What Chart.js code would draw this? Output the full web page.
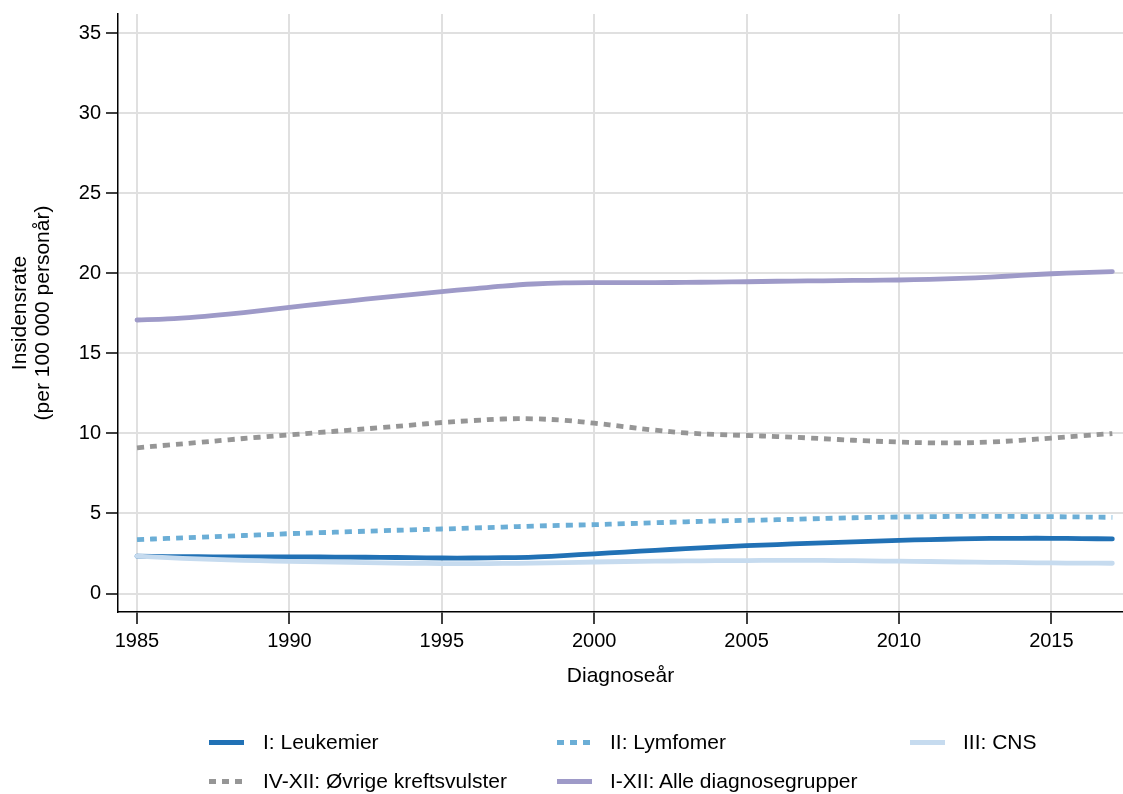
<!DOCTYPE html>
<html>
<head>
<meta charset="utf-8">
<script src="https://cdn.jsdelivr.net/npm/chart.js@4/dist/chart.umd.min.js"></script>
<style>
  html, body { margin: 0; padding: 0; background: #fff; }
  #wrap { position: relative; width: 1123px; height: 794px; overflow: hidden; }
  #c { position: absolute; left: 0; top: 0; }
  .lg { position: absolute; font-family: "Liberation Sans", Arial, sans-serif; font-size: 21px; color: #000; line-height: 24px; white-space: nowrap; }
  .sw { position: absolute; height: 0; }
</style>
</head>
<body>
<div id="wrap">
  <canvas id="c" width="1123" height="794"></canvas>
  <div id="legend"></div>
</div>
<script>
const years = [1985,1986,1987,1988,1989,1990,1991,1992,1993,1994,1995,1996,1997,1998,1999,2000,2001,2002,2003,2004,2005,2006,2007,2008,2009,2010,2011,2012,2013,2014,2015,2016,2017];

const seriesNames = ["I: Leukemier", "II: Lymfomer", "III: CNS", "IV-XII: Øvrige kreftsvulster", "I-XII: Alle diagnosegrupper"];

const leukemier = [2.33,2.31,2.30,2.29,2.29,2.29,2.28,2.27,2.26,2.24,2.22,2.22,2.24,2.28,2.37,2.48,2.59,2.70,2.80,2.90,2.99,3.06,3.13,3.20,3.26,3.32,3.37,3.41,3.44,3.45,3.45,3.43,3.41];
const lymfomer = [3.37,3.44,3.51,3.59,3.66,3.74,3.80,3.86,3.92,3.98,4.03,4.09,4.15,4.21,4.26,4.30,4.36,4.42,4.48,4.53,4.57,4.61,4.66,4.71,4.75,4.78,4.80,4.82,4.82,4.81,4.80,4.78,4.76];
const cns = [2.33,2.24,2.16,2.10,2.05,2.01,1.98,1.95,1.92,1.89,1.87,1.87,1.88,1.90,1.93,1.97,2.00,2.02,2.04,2.05,2.06,2.07,2.07,2.06,2.04,2.02,2.00,1.97,1.95,1.93,1.91,1.90,1.89];
const ovrige = [9.10,9.27,9.43,9.60,9.76,9.91,10.06,10.21,10.36,10.52,10.68,10.80,10.90,10.91,10.82,10.64,10.42,10.20,10.03,9.93,9.87,9.80,9.72,9.62,9.53,9.46,9.41,9.41,9.46,9.57,9.71,9.85,9.99];
const alle = [17.08,17.15,17.28,17.45,17.65,17.87,18.08,18.28,18.48,18.67,18.85,19.03,19.20,19.33,19.40,19.42,19.42,19.42,19.43,19.45,19.47,19.50,19.52,19.54,19.56,19.58,19.62,19.68,19.76,19.87,19.97,20.04,20.10];

const yTitle = ["Insidensrate", "(per 100 000 personår)"];
const xTitle = "Diagnoseår";

const seriesValues = [leukemier, lymfomer, cns, ovrige, alle];
const colors = ["#2171b5", "#6baed6", "#c6dbef", "#969696", "#9e9ac8"];
const dotted = [false, true, false, true, false];
const drawOrder = [2, 3, 1, 4, 5];

const FONT = "'Liberation Sans', Arial, sans-serif";

const datasets = seriesNames.map((name, i) => ({
  label: name,
  data: years.map((y, k) => ({ x: y, y: seriesValues[i][k] })),
  borderColor: colors[i],
  backgroundColor: colors[i],
  borderWidth: 4.8,
  borderDash: dotted[i] ? [7, 6] : [],
  borderCapStyle: dotted[i] ? 'butt' : 'round',
  borderJoinStyle: 'round',
  pointRadius: 0,
  tension: 0.35,
  fill: false,
  order: drawOrder[i]
}));

new Chart(document.getElementById('c'), {
  type: 'line',
  data: { datasets },
  options: {
    responsive: false,
    animation: false,
    devicePixelRatio: 1,
    layout: { padding: { top: 13.5, right: 0, bottom: 102, left: 0 } },
    plugins: { legend: { display: false }, tooltip: { enabled: false } },
    scales: {
      x: {
        type: 'linear',
        min: 1984.377,
        max: 2017.35,
        ticks: {
          stepSize: 5,
          includeBounds: false,
          autoSkip: false,
          maxRotation: 0,
          color: '#000',
          padding: 5,
          font: { family: FONT, size: 20 },
          callback: v => String(v)
        },
        grid: { color: '#e0e0e0', lineWidth: 2, tickLength: 12, tickColor: '#000', tickWidth: 1.5, drawOnChartArea: true },
        border: { display: true, color: '#000', width: 1.5 },
        title: { display: true, text: xTitle, color: '#000', font: { family: FONT, size: 21 }, padding: { top: 0, bottom: 3 } },
        afterFit: s => { s.height = 80; }
      },
      y: {
        type: 'linear',
        min: -1.153,
        max: 36.19,
        ticks: {
          stepSize: 5,
          includeBounds: false,
          color: '#000',
          padding: 5,
          font: { family: FONT, size: 20, lineHeight: 0.9 },
          callback: v => String(v)
        },
        grid: { color: '#e0e0e0', lineWidth: 2, tickLength: 12, tickColor: '#000', tickWidth: 1.5 },
        border: { display: true, color: '#000', width: 1.5 },
        title: { display: true, text: yTitle, color: '#000', font: { family: FONT, size: 21, lineHeight: 1.1 }, padding: { top: 9, bottom: 0 } },
        afterFit: s => { s.width = 118; }
      }
    }
  }
});

// HTML legend built from the datasets
const legendPos = [
  { sx: 209, tx: 263, y: 742 },
  { sx: 557, tx: 610, y: 742 },
  { sx: 910, tx: 963, y: 742 },
  { sx: 209, tx: 263, y: 781 },
  { sx: 557, tx: 610, y: 781 }
];
const lg = document.getElementById('legend');
seriesNames.forEach((name, i) => {
  const p = legendPos[i];
  const sw = document.createElement('div');
  sw.className = 'sw';
  sw.style.left = p.sx + 'px';
  sw.style.width = '35px';
  sw.style.top = (p.y - 2.5) + 'px';
  sw.style.height = '5px';
  sw.style.background = dotted[i]
    ? 'repeating-linear-gradient(90deg,' + colors[i] + ' 0 7px, transparent 7px 13px)'
    : colors[i];
  lg.appendChild(sw);
  const t = document.createElement('div');
  t.className = 'lg';
  t.style.left = p.tx + 'px';
  t.style.top = (p.y - 12) + 'px';
  t.textContent = name;
  lg.appendChild(t);
});
</script>
</body>
</html>
